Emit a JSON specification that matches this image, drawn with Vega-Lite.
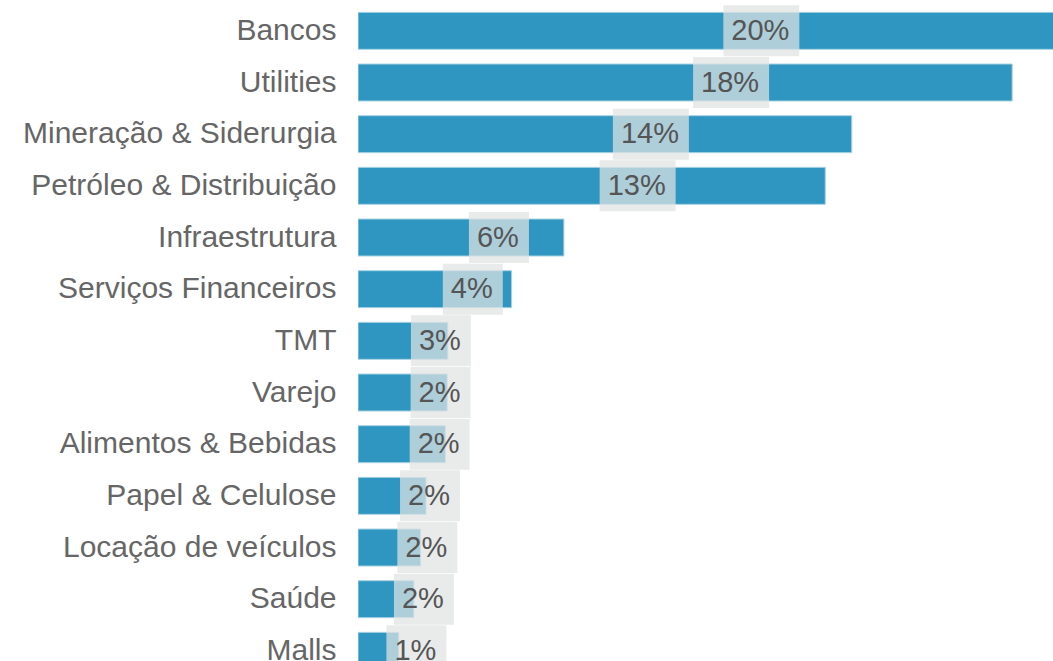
{
  "$schema": "https://vega.github.io/schema/vega-lite/v6.json",
  "width": 695,
  "height": 661,
  "autosize": {"type": "none"},
  "padding": {"left": 358, "top": 0, "right": 0, "bottom": 0},
  "background": "white",
  "config": {"view": {"stroke": null}, "font": "Liberation Sans"},
  "data": {
    "values": [
      {"setor": "Bancos", "value": 19.96, "label": "20%"},
      {"setor": "Utilities", "value": 18.27, "label": "18%"},
      {"setor": "Mineração & Siderurgia", "value": 13.79, "label": "14%"},
      {"setor": "Petróleo & Distribuição", "value": 13.05, "label": "13%"},
      {"setor": "Infraestrutura", "value": 5.75, "label": "6%"},
      {"setor": "Serviços Financeiros", "value": 4.29, "label": "4%"},
      {"setor": "TMT", "value": 2.51, "label": "3%"},
      {"setor": "Varejo", "value": 2.49, "label": "2%"},
      {"setor": "Alimentos & Bebidas", "value": 2.44, "label": "2%"},
      {"setor": "Papel & Celulose", "value": 1.90, "label": "2%"},
      {"setor": "Locação de veículos", "value": 1.75, "label": "2%"},
      {"setor": "Saúde", "value": 1.56, "label": "2%"},
      {"setor": "Malls", "value": 1.14, "label": "1%"}
    ]
  },
  "transform": [{"calculate": "datum.value / 2", "as": "mid"}],
  "encoding": {
    "y": {
      "field": "setor",
      "type": "nominal",
      "sort": null,
      "scale": {"range": [5, 676.7], "paddingInner": 0.284, "paddingOuter": 0.142},
      "axis": {
        "title": null,
        "domain": false,
        "ticks": false,
        "labelPadding": 22,
        "labelFontSize": 30,
        "labelColor": "#666666",
        "labelLimit": 0,
        "labelFont": "Liberation Sans"
      }
    }
  },
  "layer": [
    {
      "mark": {"type": "bar", "color": "#2E96C0", "stroke": "#a9d2e3", "strokeWidth": 1, "clip": true},
      "encoding": {
        "x": {"field": "value", "type": "quantitative", "scale": {"domain": [0, 19.41], "nice": false, "zero": true}, "axis": null}
      }
    },
    {
      "transform": [{"filter": "length(datum.label) > 2"}],
      "mark": {"type": "bar", "color": "#E1E3E3", "opacity": 0.72, "height": 51, "xOffset": 8, "x2Offset": 84},
      "encoding": {
        "x": {"field": "mid", "type": "quantitative"},
        "x2": {"field": "mid"}
      }
    },
    {
      "transform": [{"filter": "length(datum.label) <= 2"}],
      "mark": {"type": "bar", "color": "#E1E3E3", "opacity": 0.72, "height": 51, "xOffset": 8, "x2Offset": 68},
      "encoding": {
        "x": {"field": "mid", "type": "quantitative"},
        "x2": {"field": "mid"}
      }
    },
    {
      "mark": {"type": "text", "align": "left", "baseline": "middle", "dx": 16, "fontSize": 29, "color": "#555555", "font": "Liberation Sans"},
      "encoding": {
        "x": {"field": "mid", "type": "quantitative"},
        "text": {"field": "label"}
      }
    }
  ]
}
